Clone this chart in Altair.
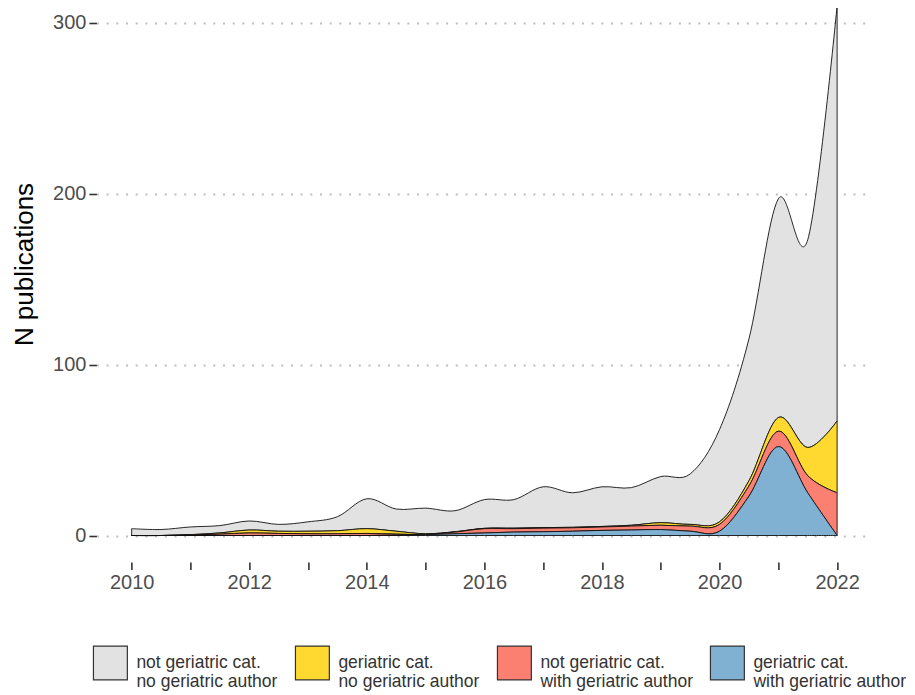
import altair as alt
import pandas as pd

years = [2010, 2010.5, 2011, 2011.5, 2012, 2012.5, 2013, 2013.5, 2014, 2014.5,
         2015, 2015.5, 2016, 2016.5, 2017, 2017.5, 2018, 2018.5, 2019, 2019.5,
         2020, 2020.5, 2021, 2021.5, 2022]

# individual (non-cumulative) values per category
gray_vals = [4, 3.5, 4.5, 4.3, 5.3, 4, 5.5, 8.2, 17.5, 13, 15, 12.3, 16.8, 16.7,
             23.9, 20.2, 23.2, 22, 27, 29.5, 54, 83, 128, 121.5, 243]
yellow_vals = [0, 0, 0.2, 0.7, 1.7, 1.3, 1.5, 1.8, 2.8, 1.7, 0.4, 0.2, 0.2, 0.3,
               0.3, 0.3, 0.3, 0.5, 1.5, 1, 1.5, 3, 8, 16.5, 42]
red_vals = [0, 0, 0.3, 0.8, 1.5, 1.2, 1, 1, 1.2, 0.6, 0.1, 1, 2.5, 2, 2.1, 2, 2,
            2.3, 2.5, 3, 4, 6, 9, 10, 25]
blue_vals = [0, 0, 0, 0, 0, 0, 0, 0, 0, 0.2, 0.5, 1, 1.5, 2, 2.2, 2.5, 3, 3.2,
             3.5, 2.5, 2.5, 23, 52, 25, 0]

categories = [
    "not geriatric cat.|no geriatric author",
    "geriatric cat.|no geriatric author",
    "not geriatric cat.|with geriatric author",
    "geriatric cat.|with geriatric author",
]
colors = ["#E2E2E2", "#FFD92F", "#FB8072", "#80B1D3"]
stack_pos = [3, 2, 1, 0]
series = [gray_vals, yellow_vals, red_vals, blue_vals]

x_ticks = [2010, 2011, 2012, 2013, 2014, 2015, 2016, 2017, 2018, 2019, 2020, 2021, 2022]
y_ticks = [0, 100, 200, 300]

rows = []
for cat, pos, vals in zip(categories, stack_pos, series):
    for yr, v in zip(years, vals):
        rows.append({"year": yr, "n": v, "cat": cat, "pos": pos})
df = pd.DataFrame(rows)

FONT = "Liberation Sans"

chart = alt.Chart(df).mark_area(
    interpolate="cardinal", stroke="#111111", strokeWidth=0.9
).encode(
    x=alt.X("year:Q",
            scale=alt.Scale(domain=[2009.4, 2022.6], nice=False, zero=False),
            axis=alt.Axis(values=x_ticks, format="d", title=None, grid=False,
                          domain=False, ticks=True, tickSize=7.5, tickWidth=1.6,
                          tickColor="#333333", labelFontSize=20, labelColor="#4D4D4D",
                          labelFont=FONT, labelPadding=3,
                          labelExpr="datum.value % 2 == 0 ? datum.label : ''")),
    y=alt.Y("n:Q", stack="zero",
            scale=alt.Scale(domain=[-15.5, 308.6], nice=False, zero=False),
            axis=alt.Axis(values=y_ticks, title="N publications", grid=True,
                          gridColor="#BDBDBD", gridDash=[2, 7.7], gridWidth=1.8,
                          domain=False, ticks=True, tickSize=7.5, tickWidth=1.6,
                          tickColor="#333333", labelFontSize=20, labelColor="#4D4D4D",
                          labelFont=FONT, labelPadding=3,
                          titleFont=FONT, titleFontSize=26, titleFontWeight="normal",
                          titleColor="#000000", titleBaseline="alphabetic",
                          titleX=-64, titleY=256, titleAngle=270)),
    color=alt.Color("cat:N",
                    scale=alt.Scale(domain=categories, range=colors),
                    legend=alt.Legend(orient="none", direction="horizontal",
                                      columns=4, title=None, legendX=-4, legendY=637,
                                      symbolType="square", symbolSize=1150,
                                      symbolStrokeColor="#333333", symbolStrokeWidth=1.2,
                                      symbolOpacity=1, labelFont=FONT, labelFontSize=17.5,
                                      labelColor="#333333", labelOffset=8,
                                      labelLimit=300, columnPadding=14, padding=0,
                                      labelExpr="split(datum.label, '|')")),
    order=alt.Order("pos:Q", sort="ascending"),
).properties(
    width=776, height=554,
    autosize=alt.AutoSizeParams(type="none"),
    padding={"left": 88.4, "top": 0, "right": 34, "bottom": 136},
).configure_view(stroke=None)

chart.save("out.html", embed_options={"renderer": "svg", "actions": False})
